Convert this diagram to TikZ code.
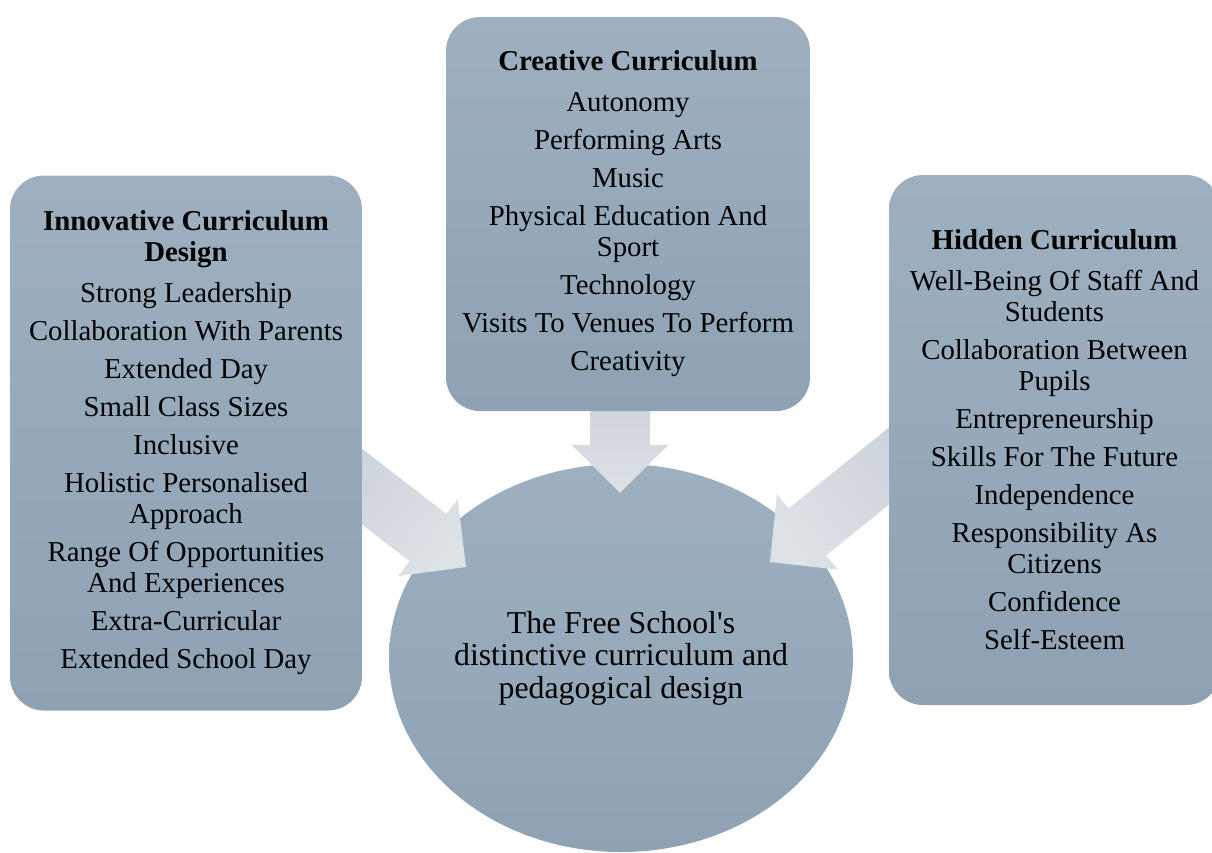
\documentclass[tikz,border=0pt]{standalone}
\usepackage{fontspec}
\setmainfont{Liberation Serif}
\usetikzlibrary{positioning,calc,shapes.geometric}

\definecolor{paneltop}{HTML}{9EB0C0}
\definecolor{panelbot}{HTML}{8EA2B4}
\definecolor{arrowdark}{HTML}{CBD2D9}
\definecolor{arrowlight}{HTML}{DDE2E7}

\pgfdeclarelayer{back}
\pgfdeclarelayer{mid}
\pgfsetlayers{back,mid,main}

\newcommand\itemsize{\fontsize{28.8}{31}\selectfont}
% block arrow from #1 to #2, shading turned by #3
\newcommand\fatarrow[3]{%
  \coordinate (h) at ($(#2)!48pt!(#1)$);
  \shade[top color=arrowdark,bottom color=arrowlight,shading angle=#3]
    ($(#1)!30pt!90:(#2)$) -- ($(h)!30pt!90:(#2)$) -- ($(h)!48.5pt!90:(#2)$) -- (#2)
    -- ($(h)!48.5pt!-90:(#2)$) -- ($(h)!30pt!-90:(#2)$) -- ($(#1)!30pt!-90:(#2)$) -- cycle;
}

\begin{document}
\begin{tikzpicture}[x=1pt,y=-1pt,
    panel/.style={rounded corners=34pt,top color=paneltop,bottom color=panelbot,
      align=center,inner sep=0pt,font=\itemsize},
    hub/.style={ellipse,top color=paneltop,bottom color=panelbot,align=center,
      inner xsep=-6pt,inner ysep=0pt,font=\fontsize{31.8}{32.5}\selectfont}]
  \useasboundingbox (0,0) rectangle (1212,852);

  \begin{pgfonlayer}{back}
    \node[hub,minimum width=464pt,minimum height=388pt] (core) at (621,658)
      {The Free School\textquotesingle s\\distinctive curriculum and\\pedagogical design};
  \end{pgfonlayer}

  \node[panel,minimum width=352pt,minimum height=535pt] (innov) at (186,443)
    {\textbf{Innovative Curriculum}\\\textbf{Design}\\[10pt]
     Strong Leadership\\[7pt]
     Collaboration With Parents\\[7pt]
     Extended Day\\[7pt]
     Small Class Sizes\\[7pt]
     Inclusive\\[7pt]
     Holistic Personalised\\Approach\\[7pt]
     Range Of Opportunities\\And Experiences\\[7pt]
     Extra-Curricular\\[7pt]
     Extended School Day};
  \node[panel,minimum width=364pt,minimum height=394pt] (creat) at (628,214)
    {\textbf{Creative Curriculum}\\[10pt]
     Autonomy\\[7pt]
     Performing Arts\\[7pt]
     Music\\[7pt]
     Physical Education And\\Sport\\[7pt]
     Technology\\[7pt]
     Visits To Venues To Perform\\[7pt]
     Creativity};
  \node[panel,minimum width=331pt,minimum height=530pt] (hidden) at (1054.5,440)
    {\textbf{Hidden Curriculum}\\[10pt]
     Well-Being Of Staff And\\Students\\[7pt]
     Collaboration Between\\Pupils\\[7pt]
     Entrepreneurship\\[7pt]
     Skills For The Future\\[7pt]
     Independence\\[7pt]
     Responsibility As\\Citizens\\[7pt]
     Confidence\\[7pt]
     Self-Esteem};

  % arrows run under the panels, over the hub
  \coordinate (s1) at ($(innov.east)+(-32,19)$);
  \coordinate (t1) at ($(core.center)+(-155,-91)$);
  \coordinate (s2) at ($(creat.south)+(-8,-20)$);
  \coordinate (t2) at ($(core.north)+(-1,29)$);
  \coordinate (s3) at ($(hidden.west)+(30,2)$);
  \coordinate (t3) at ($(core.center)+(149,-96)$);
  \begin{pgfonlayer}{mid}
    \fatarrow{s1}{t1}{52}
    \fatarrow{s2}{t2}{0}
    \fatarrow{s3}{t3}{-51}
  \end{pgfonlayer}
\end{tikzpicture}
\end{document}
